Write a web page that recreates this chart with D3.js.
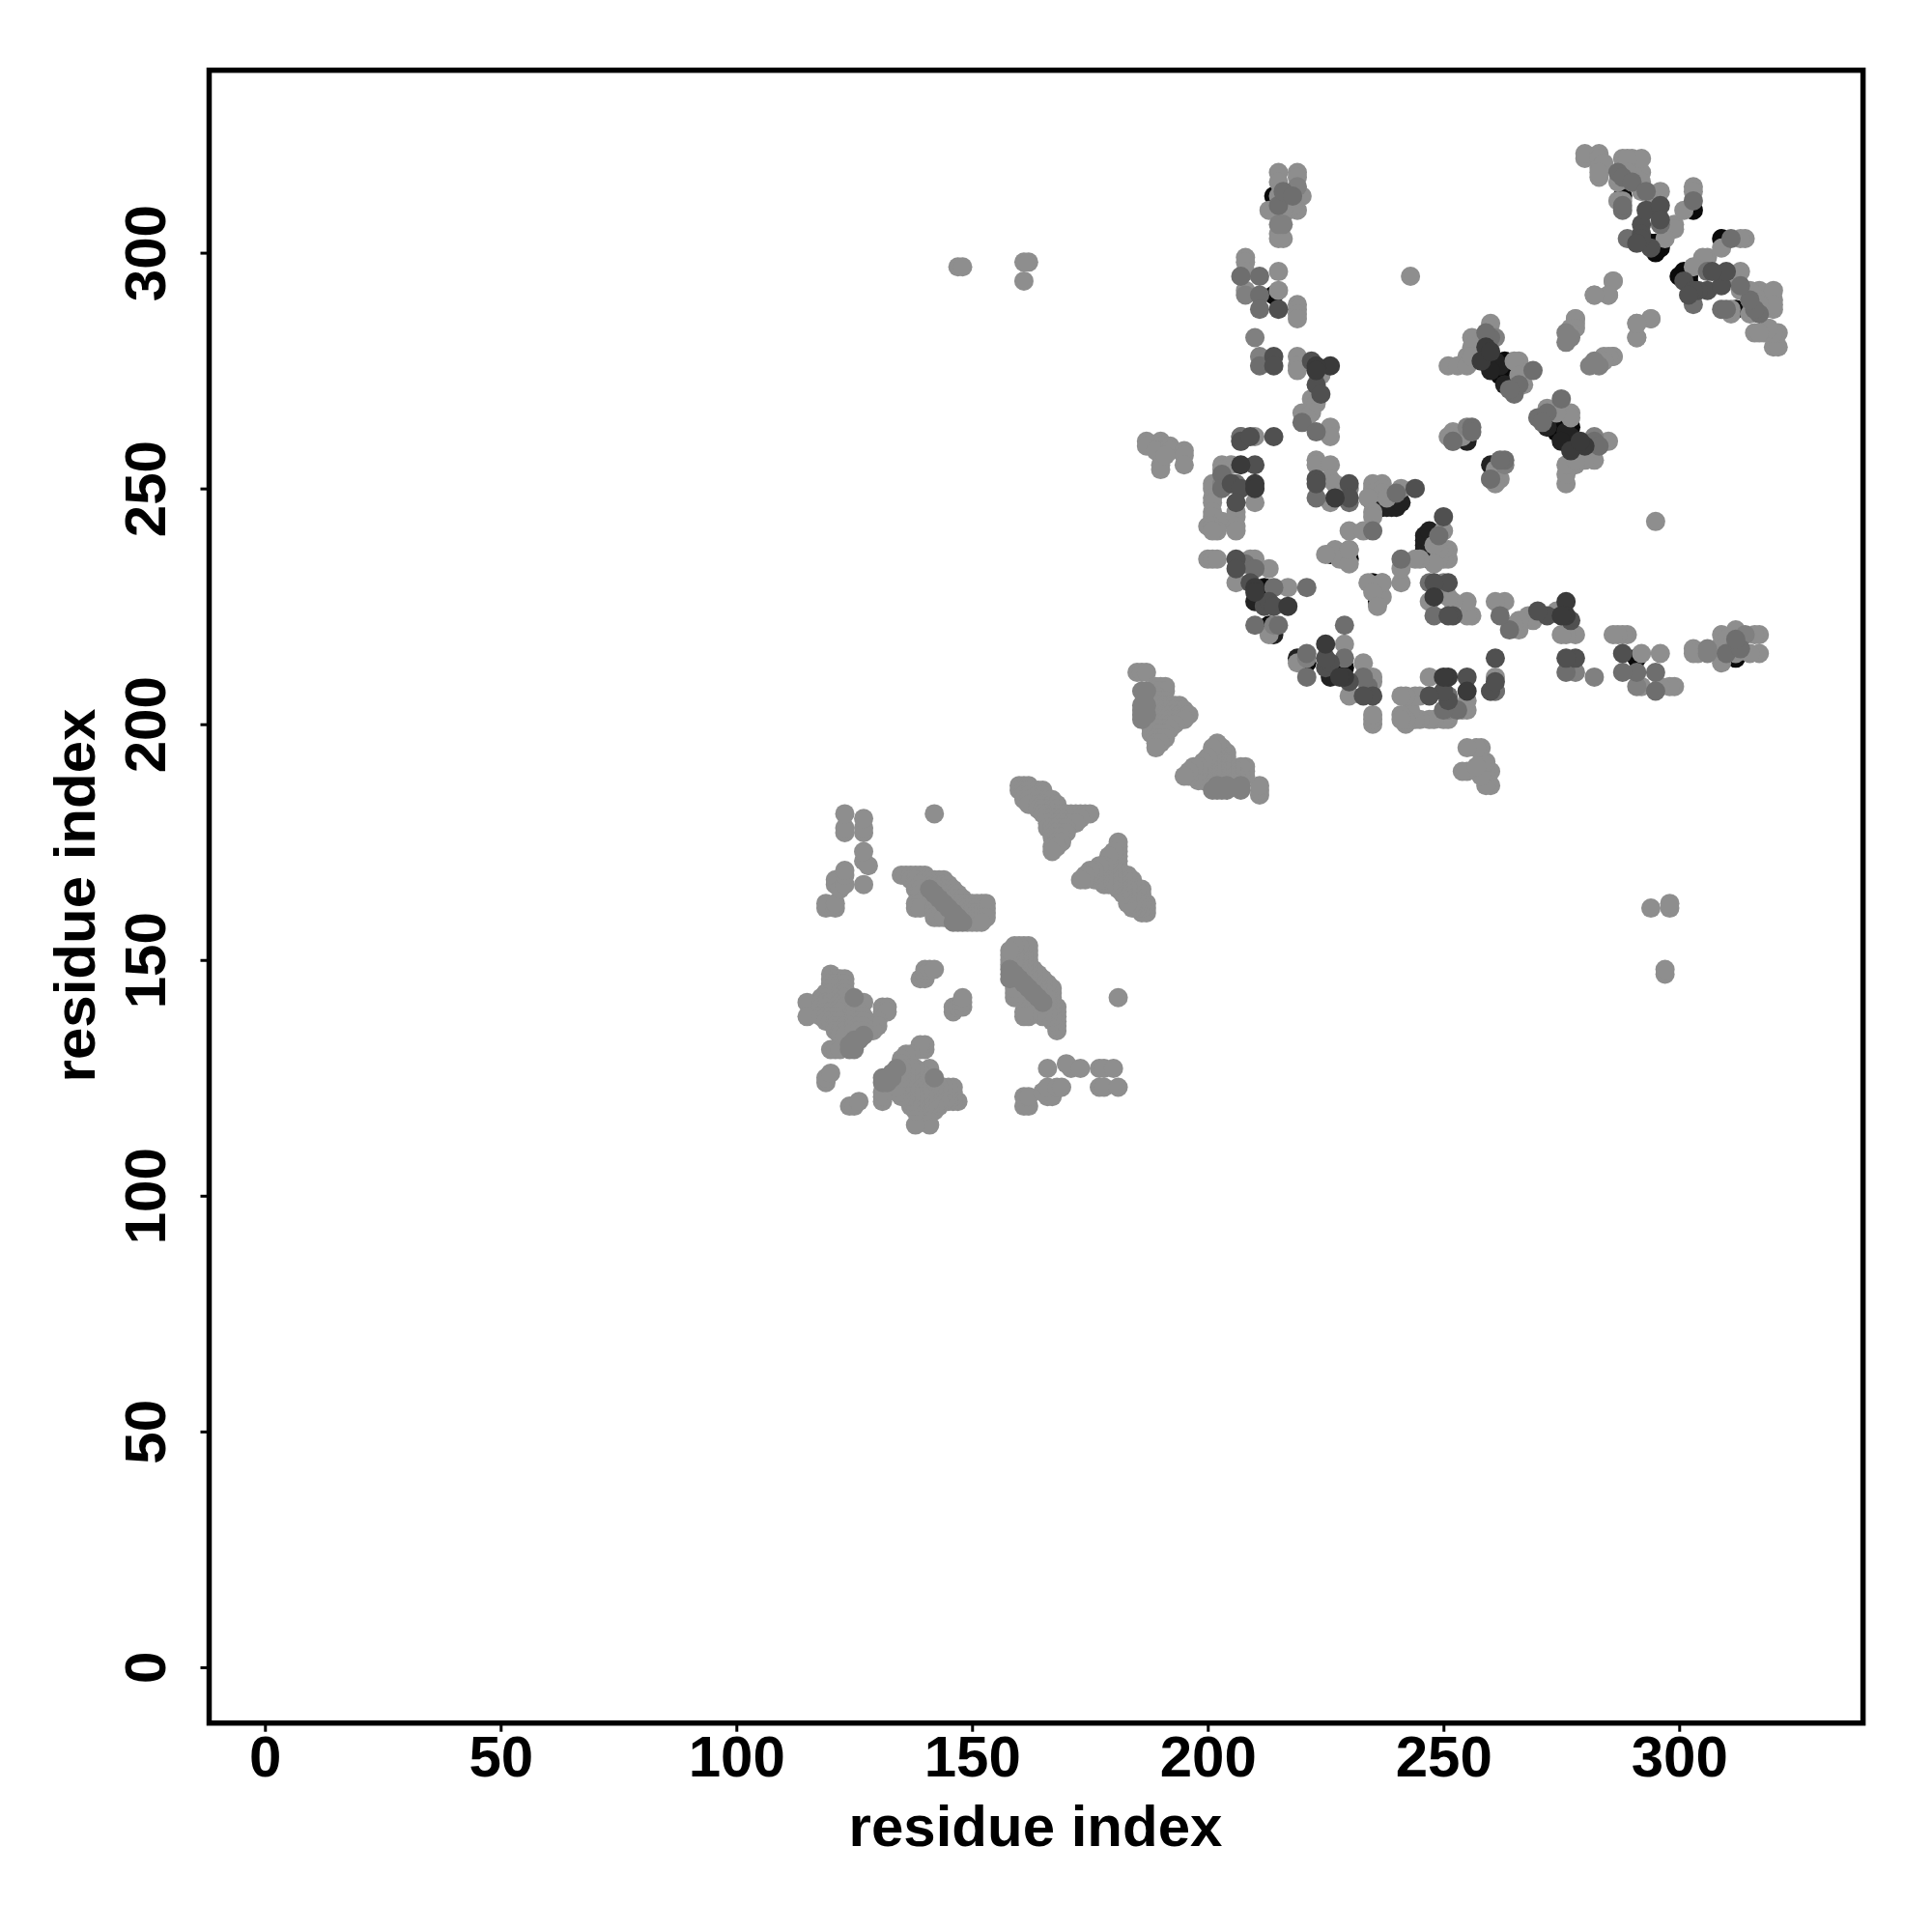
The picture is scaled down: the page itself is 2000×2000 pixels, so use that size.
<!DOCTYPE html>
<html><head><meta charset="utf-8">
<script src="https://cdn.jsdelivr.net/npm/d3@7/dist/d3.min.js"></script>
<style>html,body{margin:0;background:#fff}svg{display:block}text{font-family:"Liberation Sans",Arial,sans-serif;font-weight:700;fill:#000}</style>
</head><body><svg id="c" width="2000" height="2000"></svg>
<script>
const xTicks=[0,50,100,150,200,250,300];
const yTicks=[0,50,100,150,200,250,300];
const axisLabel="residue index";
// contacts (i<j); each contact is drawn at (i,j) and (j,i)
const shade0a=[[212,229],[213,220],[213,221],[230,235],[226,236],[288,312],[303,309],[296,301],[295,302],[294,302],[295,300],[255,261],[214,291],[261,275],[262,274],[263,277],[264,274],[264,273],[214,312],[236,247],[237,246]];
const shade1e=[[235,247],[238,246],[239,246],[237,247],[240,246],[241,247],[210,226],[214,219],[255,260],[261,277],[262,276],[260,275],[263,272]];
const light=[
[119,161],[119,162],[121,161],[121,162],[121,166],[121,167],[122,165],[123,166],[123,168],[123,169],[123,177],[123,178],[123,181],[127,166],[127,171],[128,170],[127,173],[127,177],[127,178],[127,180],[142,181],
[135,168],[136,168],[137,168],[138,168],[139,168],[140,168],[137,167],[138,167],[140,167],[141,167],[142,167],[143,167],[144,167],[138,166],[139,166],[141,166],[142,166],[143,166],[144,166],[145,166],[138,165],[139,165],[143,165],[144,165],[145,165],[146,165],[139,164],[143,164],[145,164],[146,164],[147,164],[140,163],[144,163],[146,163],[147,163],[148,163],[138,162],[139,162],[141,162],[145,162],[147,162],[148,162],[149,162],[150,162],[151,162],[152,162],[153,162],[138,161],[139,161],[142,161],[146,161],[148,161],[149,161],[150,161],[151,161],[152,161],[153,161],[142,160],[143,160],[147,160],[149,160],[150,160],[151,160],[152,160],[153,160],[142,159],[143,159],[144,159],[148,159],[149,159],[150,159],[151,159],[152,159],[153,159],[149,158],[150,158],[151,158],[152,158],
[120,147],[120,146],[121,146],[122,146],[123,146],[120,145],[121,145],[122,145],[123,145],[120,144],[122,144],[123,144],[119,143],[120,143],[122,143],[123,143],[118,142],[119,142],[122,142],[123,142],[115,141],[118,141],[119,141],[120,141],[122,141],[123,141],[118,140],[119,140],[121,140],[122,140],[123,140],[124,140],[119,139],[120,139],[121,139],[122,139],[131,140],[132,140],[131,139],[132,139],[115,138],[118,138],[119,138],[120,138],[121,138],[119,137],[120,137],[121,137],[122,137],[121,136],[122,136],[123,136],[121,135],[122,135],[123,135],[122,134],[123,134],[130,137],[129,136],[130,136],[129,135],[128,135],[120,131],[121,131],[122,131],[119,124],[119,125],[120,126],[139,146],[140,146],[140,147],[140,148],[141,148],[142,148],[125,141],[126,141],[127,141],[125,139],[126,139],[125,138],[126,138],[127,138],[125,137],[126,137],[127,137],[125,136],[126,136],[127,136],[125,135],[126,135],[127,135],
[160,187],[161,187],[162,187],[160,186],[161,186],[162,186],[164,186],[165,186],[161,185],[162,185],[164,185],[165,185],[161,184],[162,184],[164,184],[166,184],[167,184],[162,183],[164,183],[165,183],[166,183],[167,183],[168,183],[164,182],[165,182],[166,182],[167,182],[168,182],[165,181],[166,181],[167,181],[168,181],[169,181],[170,181],[171,181],[172,181],[173,181],[174,181],[175,181],[166,180],[167,180],[168,180],[169,180],[170,180],[171,180],[172,180],[173,180],[166,179],[168,179],[169,179],[170,179],[171,179],[172,179],[166,178],[167,178],[168,178],[169,178],[170,178],[167,177],[168,177],[169,177],[170,177],[167,176],[168,176],[169,176],[168,175],[169,175],[167,174],[168,174],[167,173],
[185,211],[186,211],[187,211],[189,208],[190,208],[191,208],[188,207],[189,207],[190,207],[191,207],[188,206],[189,206],[188,205],[189,205],[190,205],[191,205],[188,204],[189,204],[190,204],[191,204],[192,204],[193,204],[194,204],[188,203],[189,203],[190,203],[191,203],[192,203],[193,203],[194,203],[195,203],[188,202],[189,202],[190,202],[191,202],[192,202],[193,202],[194,202],[195,202],[196,202],[188,201],[189,201],[190,201],[191,201],[192,201],[193,201],[194,201],[195,201],[188,200],[189,200],[190,200],[191,200],[192,200],[193,200],[188,199],[189,199],[190,199],[191,199],[192,199],[188,198],[189,198],[190,198],[191,198],[189,197],[190,197],[191,197],[189,196],[190,196],[189,195],
[187,260],[187,259],[190,260],[190,259],[190,258],[189,258],[192,259],[192,258],[195,258],[195,257],[190,255],[190,254],[191,257],[195,255],[210,261],
[203,255],[205,255],[203,254],[201,251],[201,250],[210,247],[201,248],[201,247],[201,245],[201,244],[203,243],[206,245],[206,244],[206,242],[206,241],[200,242],[201,242],[202,241],[201,241],
[200,235],[201,235],[202,235],[209,235],[210,235],[213,233],[206,230],[217,229],[213,219],
[223,256],[223,255],[226,255],[226,252],[227,251],[226,247],
[235,251],[237,251],[235,250],[237,250],[235,249],[237,249],[238,248],[234,248],[241,250],[235,245],[235,244],[230,241],[233,241],
[227,237],[230,237],[228,235],[225,236],[234,230],[237,230],
[215,317],[215,315],[219,317],[219,316],[220,312],[213,309],[217,309],[219,309],[215,304],[216,303],[215,303],[215,312],[216,311],[218,310],[216,309],
[208,299],[208,298],[208,296],[215,296],[215,292],[219,289],[219,288],[219,287],[219,286],[208,292],
[219,278],[219,276],[219,275],[224,274],[222,269],[223,268],[220,266],[222,266],[221,265],[226,263],[226,261],
[280,320],[280,321],[283,321],[283,320],[283,318],[283,316],[288,320],[290,320],[289,319],[292,317],[290,317],[288,318],[287,315],[296,313],[287,311],[299,306],[299,305],[297,303],[303,314],[303,313],[301,309],[292,315],[295,310],[284,319],
[286,294],[282,291],[285,291],[278,286],[278,285],[277,284],[294,286],[291,285],[291,282],[286,278],[284,278],[283,277],
[260,285],[256,282],[256,280],[255,278],[251,276],[253,276],[255,276],[256,278],[266,277],[267,272],[265,277],[266,274],
[252,262],[254,261],[251,261],
[243,295],[147,297],[148,297],[161,298],[162,298],[161,294],
[292,320],[289,320],[283,317],[289,317],[290,315],[288,311],[292,313]
];
const shade80=[[210,282],[211,278],[215,306],[216,306],[208,291],[219,314],[203,251],[207,260],[230,250],[221,214],[261,282],[277,282],[276,283],[281,276],[252,260],[263,255],[207,261],[144,162],[145,161],[146,160],[147,159],[148,158],[143,163],[142,164],[141,165],[146,158],[147,158],[124,131],[125,131],[125,132],[126,133],[127,134],[125,133],[124,132],[125,142],[186,204],[187,204],[186,203],[186,202],[187,202],[186,201],[186,207],[187,207]];
const shade70=[[207,261],[203,253],[203,250],[206,251],[208,234],[210,233],[214,229],[210,221],[215,221],[221,229],[223,248],[230,247],[240,249],[235,241],[287,317],[288,316],[290,315],[293,313],[288,309],[288,310],[303,311],[296,306],[289,303],[207,295],[211,295],[211,291],[211,288],[215,310],[216,313],[218,312],[211,276],[220,264],[223,262],[256,263],[256,262],[252,260],[269,275],[260,282],[259,283],[265,270],[266,272],[264,271]];
const shade55=[[207,260],[209,261],[214,261],[205,251],[207,250],[210,255],[206,247],[206,235],[206,233],[209,230],[212,225],[213,226],[214,225],[223,252],[223,251],[230,251],[230,248],[244,250],[214,278],[214,276],[292,306],[293,309],[296,310],[292,304],[296,307],[294,301],[215,288],[222,277],[223,272],[224,270],[292,303],[291,302]];
const shade38=[[207,255],[210,251],[210,250],[210,229],[210,228],[217,225],[227,248],[226,276],[223,276],[223,275],[259,280],[258,277],[260,279]];
const shadeOrder=[["#0a0a0a",shade0a],["#222222",shade1e],["#8e8e8e",light],["#808080",shade80],["#6e6e6e",shade70],["#505050",shade55],["#3a3a3a",shade38]];

const svg=d3.select("#c");
const x=d3.scaleLinear().domain([-11.84,339]).range([216.5,1928.6]);
const y=d3.scaleLinear().domain([-11.84,338.7]).range([1783.7,72.7]);
const dots=svg.append("g");
shadeOrder.forEach(([color,list])=>{
  const g=dots.append("g").attr("fill",color);
  g.selectAll("circle.a").data(list).join("circle").attr("class","a").attr("cx",d=>x(d[0])).attr("cy",d=>y(d[1])).attr("r",10);
  g.selectAll("circle.b").data(list).join("circle").attr("class","b").attr("cx",d=>x(d[1])).attr("cy",d=>y(d[0])).attr("r",10);
});
svg.append("rect").attr("x",216.5).attr("y",72.7).attr("width",1712.1).attr("height",1711).attr("fill","none").attr("stroke","#000").attr("stroke-width",5.5);
const ax=svg.append("g").attr("transform","translate(0,1783.7)").call(d3.axisBottom(x).tickValues(xTicks).tickSize(9).tickPadding(0).tickSizeOuter(0));
ax.select(".domain").remove();
ax.selectAll("line").attr("stroke","#000").attr("stroke-width",3);
ax.selectAll("text").attr("font-size",60).attr("y",55).attr("dy",0).attr("fill","#000");
const ay=svg.append("g").attr("transform","translate(216.5,0)").call(d3.axisLeft(y).tickValues(yTicks).tickSize(9).tickSizeOuter(0));
ay.select(".domain").remove();
ay.selectAll("line").attr("stroke","#000").attr("stroke-width",3);
ay.selectAll("text").attr("font-size",60).attr("x",null).attr("dy",0).attr("text-anchor","middle").attr("fill","#000")
  .attr("transform",d=>`translate(-45.5,0) rotate(-90)`);
svg.append("text").attr("x",1072).attr("y",1911).attr("text-anchor","middle").attr("font-size",60).text(axisLabel);
svg.append("text").attr("transform","translate(98,927) rotate(-90)").attr("text-anchor","middle").attr("font-size",60).text(axisLabel);
</script></body></html>
